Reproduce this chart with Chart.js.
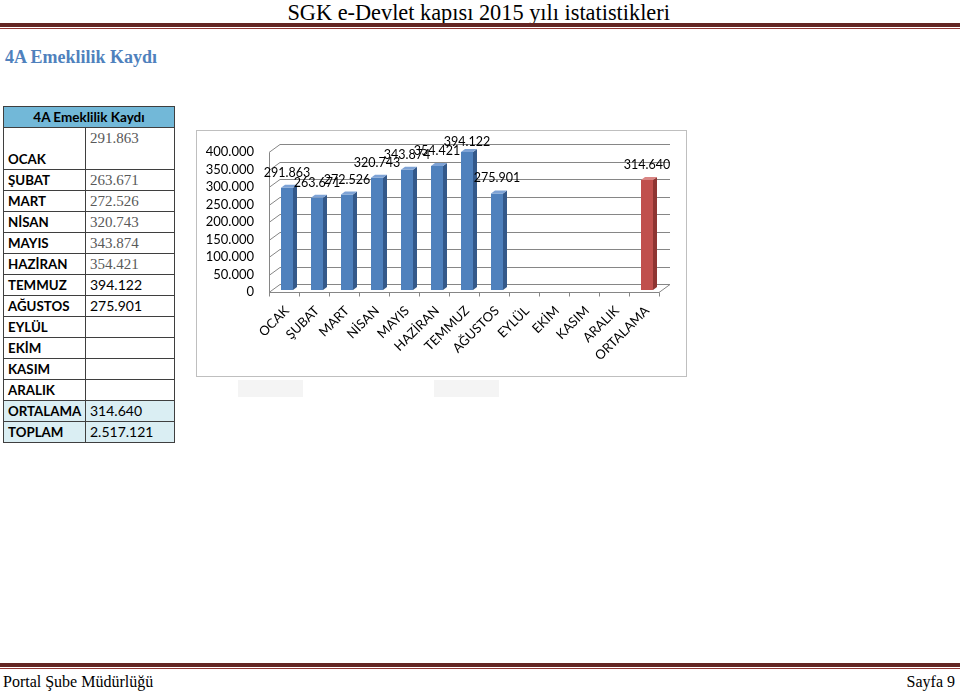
<!DOCTYPE html>
<html lang="tr">
<head>
<meta charset="utf-8">
<title>4A Emeklilik Kaydı</title>
<script src="https://cdn.jsdelivr.net/npm/chart.js@4.4.0/dist/chart.umd.min.js"></script>
<style>
  html, body { margin: 0; padding: 0; background: #fff; }
  body { width: 960px; height: 691px; position: relative; overflow: hidden; font-family: Lato, "Liberation Sans", sans-serif; }
  .pagehead { position: absolute; left: 0; top: 0; width: 958px; text-align: center; }
  .pagehead span { display: inline-block; font-family: "Liberation Serif", serif; font-size: 24px; line-height: 24px; transform: scaleX(0.93); transform-origin: center; }
  .rule-thick { position: absolute; left: 0; width: 960px; height: 4px; background: #632523; }
  .rule-thin { position: absolute; left: 0; width: 960px; height: 1px; background: #943634; }
  .title { position: absolute; left: 5px; top: 47px; font-family: "Liberation Serif", serif; font-weight: bold; font-size: 18px; color: #4f81bd; }
  table.data { position: absolute; left: 3px; top: 106px; width: 171px; border-collapse: collapse; table-layout: fixed; }
  table.data td { border: 1px solid #3f3f3f; padding: 0 4px; font-size: 14px; line-height: 16px; white-space: nowrap; overflow: hidden; }
  table.data tr { height: 21px; }
  table.data tr.head td { background: #72b8d8; text-align: center; font-weight: bold; font-size: 13.5px; height: 19px; }
  table.data tr.tall { height: 42px; }
  table.data td.lab { font-weight: bold; color: #000; font-size: 13.3px; padding-left: 4px; }
  table.data td.val { color: #000; }
  table.data td.val.old { font-family: "Liberation Serif", serif; color: #595959; font-size: 15px; }
  table.data tr.sum td { background: #daeef3; }
  .chartbox { position: absolute; left: 196px; top: 130px; width: 491px; height: 247px; box-sizing: border-box; border: 1px solid #bfbfbf; background: #fff; }
  .chartbox .inner { position: absolute; left: 0; top: 0; width: 489px; height: 245px; }
  .ghost { position: absolute; top: 380px; width: 65px; height: 17px; background: #f4f4f4; }
  .foot { position: absolute; top: 673px; font-family: "Liberation Serif", serif; font-size: 16px; line-height: 18px; }
</style>
</head>
<body>
<div class="pagehead"><span>SGK e-Devlet kapısı 2015 yılı istatistikleri</span></div>
<div class="rule-thick" style="top:23px"></div>
<div class="rule-thin" style="top:28px"></div>

<div class="title">4A Emeklilik Kaydı</div>

<table class="data" id="dataTable">
  <colgroup><col style="width:82px"><col style="width:89px"></colgroup>
</table>

<div class="chartbox"><div class="inner"><canvas id="myChart"></canvas></div></div>
<div class="ghost" style="left:238px"></div>
<div class="ghost" style="left:434px"></div>

<div class="rule-thick" style="top:663px"></div>
<div class="rule-thin" style="top:668px"></div>
<div class="foot" style="left:3px">Portal Şube Müdürlüğü</div>
<div class="foot" style="right:5px">Sayfa 9</div>

<script>
// categories on the x axis (months + average)
const months = ['OCAK', 'ŞUBAT', 'MART', 'NİSAN', 'MAYIS', 'HAZİRAN', 'TEMMUZ', 'AĞUSTOS', 'EYLÜL', 'EKİM', 'KASIM', 'ARALIK', 'ORTALAMA'];
// 4A retirement registrations per month, last one is the average
const values = [291863, 263671, 272526, 320743, 343874, 354421, 394122, 275901, null, null, null, null, 314640];
const tableTitle = '4A Emeklilik Kaydı';
const totalLabel = 'TOPLAM';
const totalValue = 2517121;
const yTicks = [0, 50000, 100000, 150000, 200000, 250000, 300000, 350000, 400000];

// thousands separator with a dot, like the original
function fmt(n) {
  return String(n).replace(/\B(?=(\d{3})+(?!\d))/g, '.');
}

// build the table on the left
const table = document.getElementById('dataTable');
let html = '<tr class="head"><td colspan="2">' + tableTitle + '</td></tr>';
months.forEach(function (m, i) {
  const v = values[i] == null ? '' : fmt(values[i]);
  const valClass = i < 6 ? 'val old' : 'val';
  if (i === 0) {
    html += '<tr class="tall"><td class="lab" style="vertical-align:bottom;padding-bottom:2px">' + m +
      '</td><td class="' + valClass + '" style="vertical-align:top;padding-top:2px">' + v + '</td></tr>';
  } else {
    const rowClass = m === 'ORTALAMA' ? ' class="sum"' : '';
    html += '<tr' + rowClass + '><td class="lab">' + m + '</td><td class="' + valClass + '">' + v + '</td></tr>';
  }
});
html += '<tr class="sum"><td class="lab">' + totalLabel + '</td><td class="val">' + fmt(totalValue) + '</td></tr>';
table.insertAdjacentHTML('beforeend', html);

// colours: blue months, red average
const front = values.map(function (v, i) { return i === 12 ? '#c0504d' : '#4f81bd'; });
const side = values.map(function (v, i) { return i === 12 ? '#8e3532' : '#34598a'; });
const top3d = values.map(function (v, i) { return i === 12 ? '#d98583' : '#7ea3d6'; });

// offsets of the fake 3D floor / walls
const FX = -3, FY = 2, BX = 8, BY = -6;

// back walls, floor and slanted ticks
const frame3d = {
  id: 'frame3d',
  beforeDatasetsDraw(chart) {
    const ctx = chart.ctx;
    const a = chart.chartArea;
    const y = chart.scales.y;
    ctx.save();
    ctx.strokeStyle = '#868686';
    ctx.lineWidth = 1;
    ctx.beginPath();
    yTicks.forEach(function (t) {
      const py = Math.round(y.getPixelForValue(t)) + 0.5;
      ctx.moveTo(a.left + FX, py + FY);
      ctx.lineTo(a.left + BX, py + BY);
      ctx.lineTo(a.right + BX, py + BY);
    });
    const topY = Math.round(y.getPixelForValue(yTicks[yTicks.length - 1])) + 0.5;
    const zy = Math.round(y.getPixelForValue(0)) + 0.5;
    const lx = Math.round(a.left + FX) + 0.5;
    ctx.moveTo(lx, topY + FY);
    ctx.lineTo(lx, zy + FY);
    ctx.moveTo(a.left + FX, zy + FY);
    ctx.lineTo(a.right + FX, zy + FY);
    ctx.lineTo(a.right + BX, zy + BY);
    const w = (a.right - a.left) / months.length;
    for (let i = 0; i <= months.length; i++) {
      const px = Math.round(a.left + FX + i * w) + 0.5;
      ctx.moveTo(px, zy + FY);
      ctx.lineTo(px, zy + FY + 4);
    }
    ctx.stroke();
    ctx.restore();
  }
};

// side + top faces of each bar and the value labels
const bars3d = {
  id: 'bars3d',
  afterDatasetsDraw(chart) {
    const ctx = chart.ctx;
    const meta = chart.getDatasetMeta(0);
    const d = 4, h = 3;
    ctx.save();
    meta.data.forEach(function (bar, i) {
      if (values[i] == null) return;
      const p = bar.getProps(['x', 'y', 'base', 'width'], true);
      const l = p.x - p.width / 2, r = p.x + p.width / 2;
      ctx.fillStyle = side[i];
      ctx.beginPath();
      ctx.moveTo(r, p.y);
      ctx.lineTo(r + d, p.y - h);
      ctx.lineTo(r + d, p.base - h);
      ctx.lineTo(r, p.base);
      ctx.closePath();
      ctx.fill();
      ctx.fillStyle = top3d[i];
      ctx.beginPath();
      ctx.moveTo(l, p.y);
      ctx.lineTo(l + d, p.y - h);
      ctx.lineTo(r + d, p.y - h);
      ctx.lineTo(r, p.y);
      ctx.closePath();
      ctx.fill();
      ctx.fillStyle = '#000';
      ctx.font = '12.5px Lato';
      ctx.textAlign = 'center';
      ctx.textBaseline = 'middle';
      ctx.fillText(fmt(values[i]), p.x, Math.max(p.y - 15, 11));
    });
    ctx.restore();
  }
};

const ctx = document.getElementById('myChart').getContext('2d');
const myChart = new Chart(ctx, {
  type: 'bar',
  data: {
    labels: months,
    datasets: [{
      label: tableTitle,
      data: values,
      backgroundColor: front,
      borderWidth: 0,
      categoryPercentage: 1,
      barPercentage: 0.4
    }]
  },
  options: {
    responsive: true,
    maintainAspectRatio: false,
    animation: false,
    layout: { padding: { top: 19, right: 24, left: 0, bottom: 0 } },
    plugins: { legend: { display: false }, tooltip: { enabled: false } },
    scales: {
      x: {
        grid: { display: false },
        border: { display: false },
        ticks: {
          autoSkip: false,
          minRotation: 45,
          maxRotation: 45,
          padding: 5,
          color: '#000',
          font: { family: 'Lato', size: 13 }
        },
        afterFit: function (scale) { scale.height = 86; }
      },
      y: {
        min: 0,
        max: 400000,
        grid: { display: false },
        border: { display: false },
        afterBuildTicks: function (scale) {
          scale.ticks = yTicks.map(function (v) { return { value: v }; });
        },
        ticks: {
          autoSkip: false,
          padding: 10,
          labelOffset: 2,
          color: '#000',
          font: { family: 'Lato', size: 13 },
          callback: function (v) { return fmt(v); }
        },
        afterFit: function (scale) { scale.width = 75; }
      }
    }
  },
  plugins: [frame3d, bars3d]
});
</script>
</body>
</html>
